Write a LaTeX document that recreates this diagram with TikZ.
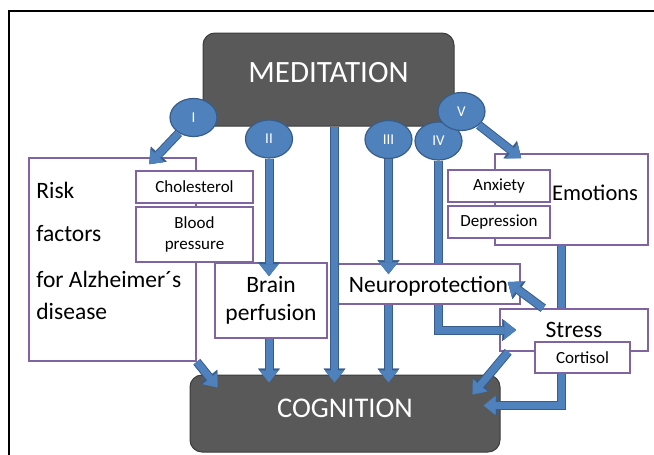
\documentclass[tikz,border=0pt]{standalone}
\usepackage{fontspec}
\setmainfont{Carlito}
\usetikzlibrary{shapes.geometric, arrows.meta, calc, backgrounds}
\definecolor{boxgrey}{RGB}{89,89,89}
\definecolor{boxgreyedge}{RGB}{60,60,60}
\definecolor{flowblue}{RGB}{79,129,189}
\definecolor{flowedge}{RGB}{56,93,138}
\definecolor{boxpurple}{RGB}{128,100,162}
\tikzset{
  greybox/.style={rectangle, rounded corners=12, fill=boxgrey, draw=boxgreyedge, line width=1pt, text=white, inner sep=0pt},
  purplebox/.style={rectangle, fill=white, draw=boxpurple, line width=1.6pt, inner sep=0pt},
  numcircle/.style={ellipse, minimum width=47, minimum height=38, inner sep=0pt, fill=flowblue, draw=flowedge, line width=1.2pt, text=white, font=\fontsize{15}{18}\selectfont},
  bigtext/.style={font=\fontsize{23.5}{28}\selectfont},
  smalltext/.style={font=\fontsize{17}{21}\selectfont},
  flow/.style={draw=flowblue, line width=7pt, -{Triangle[width=19pt, length=12pt, line width=0.4pt]},
    preaction={draw=flowedge, line width=9pt, -{Triangle[width=22pt, length=14pt, line width=0.4pt]}}}
}

\begin{document}
\begin{tikzpicture}[x=1pt, y=-1pt]
    \useasboundingbox (0,0) rectangle (654,455);
    \draw[line width=1.4pt] (9,455) -- (9,11) -- (654,11);

    \node[greybox, minimum width=251, minimum height=93, text height=19pt, text depth=14pt, font=\fontsize{31}{36}\selectfont] (med) at (328.5,79.5) {MEDITATION};
    \begin{pgfonlayer}{background}
        \node[greybox, minimum width=310, minimum height=77, text height=18pt, text depth=11pt, font=\fontsize{28.5}{34}\selectfont] (cog) at (345,413.5) {COGNITION};
    \end{pgfonlayer}

    % left column
    \node[purplebox, minimum width=167, minimum height=203] (risk) at (112.5,259.5) {};
    \node[anchor=north west, align=left, inner sep=0pt, font=\fontsize{23.5}{32}\selectfont] (risktext) at ($(risk.north west)+(8,25)$) {Risk\\[11pt]factors\\[14pt]for Alzheimer´s\\disease};
    \node[purplebox, smalltext, minimum width=117, minimum height=32] (chol) at (194.5,187) {Cholesterol};
    \node[purplebox, smalltext, minimum width=117, minimum height=55, align=center] (blood) at (194.5,234.5) {Blood\\pressure};
    \node[purplebox, bigtext, minimum width=112, minimum height=75, align=center] (brain) at (271,300.5) {Brain\\perfusion};

    % right column
    \node[purplebox, font=\fontsize{22.5}{28}\selectfont, text width=133, align=right, inner xsep=10, text height=14pt, text depth=13pt, minimum height=91] (emo) at (571.5,199.5) {Emotions};
    \node[purplebox, smalltext, minimum width=102, minimum height=32] (anx) at (499,186) {Anxiety};
    \node[purplebox, smalltext, minimum width=102, minimum height=32] (dep) at (499,222) {Depression};
    \node[purplebox, bigtext, minimum width=148, minimum height=42] (stress) at (574,330) {Stress};
    \node[purplebox, smalltext, minimum width=95, minimum height=31] (cort) at (582.5,357.5) {Cortisol};

    \node[numcircle] (c1) at (193.5,117.5) {I};
    \node[numcircle] (c2) at (269,139) {II};
    \node[numcircle] (c3) at (388.5,139.5) {III};
    \node[numcircle] (c4) at (438.5,141) {IV};
    \node[numcircle] (c5) at (461.5,111.5) {V};

    \draw[flow] (c4) |- ($(stress.west)+(17,0)$);
    \node[purplebox, bigtext, minimum width=183, minimum height=40, text height=21pt, text depth=5pt] (neuro) at (428.5,284) {Neuroprotection};

    % from the circles
    \draw[flow] (c1) -- ($(risk.north west)+(121,7)$);
    \draw[flow] (c2) -- ($(c2 |- brain.north)+(0,14)$);
    \draw[flow] (c3) -- ($(c3 |- neuro.north)+(0,11)$);
    \draw[flow] (c5) -- ($(emo.north west)+(27,5)$);

    % into cognition
    \draw[flow] ($(med.south)+(6,0)$) -- ($(med.south |- cog.north)+(6,8)$);
    \draw[flow] (brain.south -| c2) -- ($(c2 |- cog.north)+(0,8)$);
    \draw[flow] (neuro.south -| c3) -- ($(c3 |- cog.north)+(0,8)$);
    \draw[flow] (risk.south east) -- ($(cog.north west)+(28,13)$);
    \draw[flow] ($(stress.north west)+(44,0)$) -- ($(neuro.east)+(-13,-2)$);
    \draw[flow] ($(stress.south west)+(9,0)$) -- ($(cog.north east)+(-28,20)$);
    \begin{pgfonlayer}{background}
        \draw[flow] ($(emo.south west)+(67,0)$) |- ($(cog.north east)+(-17,31)$);
    \end{pgfonlayer}
\end{tikzpicture}
\end{document}
